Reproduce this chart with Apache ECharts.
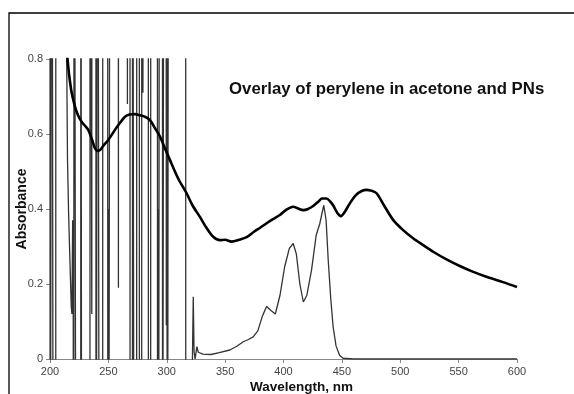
<!DOCTYPE html>
<html><head><meta charset="utf-8">
<script src="https://cdn.jsdelivr.net/npm/echarts@6/dist/echarts.min.js"></script>
<style>html,body{margin:0;padding:0;background:#fff}#c{width:574px;height:394px}</style>
</head><body><div id="c"></div>
<script>
var titleText = 'Overlay of perylene in acetone and PNs';
var xName = 'Wavelength, nm';
var yName = 'Absorbance';
var xTicks = [200, 250, 300, 350, 400, 450, 500, 550, 600];
var yTicks = [0, 0.2, 0.4, 0.6, 0.8];

// thick curve: perylene in acetone
var acetone = [[212,0.95],[215,0.8],[218,0.72],[221.4,0.673],[224,0.65],[227,0.633],[230,0.622],[232.8,0.611],[236,0.585],[238.5,0.562],[240.5,0.555],[242.8,0.557],[246,0.57],[249.9,0.584],[255.6,0.611],[260,0.63],[264.2,0.646],[268,0.652],[272.8,0.653],[277,0.65],[281.3,0.646],[285.6,0.637],[290,0.615],[294.2,0.593],[298,0.565],[302.7,0.531],[310,0.48],[317,0.442],[322,0.41],[328.4,0.379],[334,0.35],[339.8,0.326],[345.5,0.317],[350,0.318],[355.5,0.313],[362,0.318],[368.4,0.325],[375,0.34],[380,0.35],[385.5,0.362],[391,0.373],[396.9,0.384],[402,0.397],[408.3,0.406],[412,0.402],[416.9,0.397],[421,0.4],[425.4,0.408],[430,0.42],[433,0.428],[436.9,0.428],[440,0.42],[442.5,0.41],[446,0.39],[449.2,0.381],[452,0.39],[456.8,0.415],[462,0.437],[467,0.448],[471,0.451],[475,0.449],[479.7,0.442],[486,0.41],[493.9,0.371],[502,0.345],[511,0.322],[520,0.303],[528.2,0.286],[540,0.265],[551,0.248],[562,0.233],[575,0.218],[588,0.205],[600,0.192]];

// thin curve: perylene in PNs (noisy below ~320 nm)
var pns = [[200.0,2],[200.1,-1],[201.5,-1],[201.6,2],[202.8,2],[202.9,-1],[204.9,-1],[205.0,2],
[214.3,0.8],[215,0.53],[216,0.38],[217,0.27],[218.2,0.14],[218.8,0.12],[219.4,0.37],[219.9,0.12],[220.2,-1],
[220.6,-1],[220.7,2],[222.3,2],[222.4,-1],[226.3,-1],[226.4,2],[227.1,2],[227.2,-1],
[234.2,-1],[234.3,2],[235.7,2],[235.8,0.12],[235.9,2],[239.3,2],[239.4,-1],[240.8,-1],[240.9,2],
[242.2,2],[242.3,-1],[245.1,-1],[245.2,2],[249.4,2],[249.5,-1],[250.0,-1],[250.1,0.40],[250.2,-1],
[251.4,-1],[251.5,2],[258.5,2],[258.6,0.19],[258.7,2],[266.2,2],[266.3,0.68],[266.4,2],
[268.5,2],[268.6,-1],[270.6,-1],[270.7,2],[272.0,2],[272.1,-1],[274.2,-1],[274.3,2],
[276.5,2],[276.6,-1],[278.5,-1],[278.6,2],[279.5,2],[279.6,0.71],[279.7,2],
[284.2,2],[284.3,-1],[286.2,-1],[286.3,2],[292.0,2],[292.1,-1],[292.7,-1],[292.8,0.40],[292.9,-1],
[293.8,-1],[293.9,2],[296.3,2],[296.4,-1],[297.6,-1],[297.7,2],[299.5,2],[299.6,0.09],[299.7,2],
[300.5,2],[300.6,-1],[301.5,-1],[301.6,2],[316.2,2],[316.3,-1],
[321.5,-1],[322.0,0.0],[322.7,0.166],[323.4,0.02],[324.3,0.0],[325.8,0.033],[327,0.018],[331,0.013],[338,0.012],[345,0.017],[354,0.024],[360,0.034],[365.5,0.046],[370,0.052],[374,0.059],[378,0.075],[382,0.115],[385.5,0.14],[389,0.13],[393,0.12],[397,0.17],[401,0.246],[405,0.295],[408.3,0.308],[411,0.28],[414,0.2],[417,0.152],[420,0.17],[424,0.237],[428,0.33],[431,0.36],[434.5,0.41],[436.5,0.37],[438.3,0.264],[440.5,0.16],[442.5,0.086],[445,0.035],[448,0.01],[451,0.002],[460,0.0],[600,0.0]];

var chart = echarts.init(document.getElementById('c'), null, {renderer:'canvas'});
chart.setOption({
  animation:false,
  backgroundColor:'#fff',
  grid:{left:50, right:57, top:59, bottom:35},
  xAxis:{type:'value', min:200, max:600, interval:50,
    axisLine:{lineStyle:{color:'#888', width:1}},
    axisTick:{show:true, length:4, lineStyle:{color:'#888'}},
    axisLabel:{color:'#444', fontSize:11, fontFamily:'Liberation Sans, Arial', margin:7},
    splitLine:{show:false}},
  yAxis:{type:'value', min:0, max:0.8, interval:0.2,
    axisLine:{show:true, lineStyle:{color:'#888', width:1}},
    axisTick:{show:true, length:4, lineStyle:{color:'#888'}},
    axisLabel:{color:'#444', fontSize:11, fontFamily:'Liberation Sans, Arial', margin:7,
      formatter:function(v){return v===0?'0':v.toFixed(1);}},
    splitLine:{show:false}},
  series:[
    {type:'line', data:pns, showSymbol:false, symbol:'none', clip:true,
      lineStyle:{color:'#333', width:1.3}, z:2},
    {type:'line', data:acetone, showSymbol:false, symbol:'none', smooth:0.3, clip:true,
      lineStyle:{color:'#000', width:2.6}, z:3}
  ],
  graphic:[
    {type:'rect', shape:{x:9, y:13, width:700, height:500}, style:{fill:null, stroke:'#000', lineWidth:1.3}, silent:true},
    {type:'text', left:229, top:81, style:{text:titleText, font:'bold 16.8px "Liberation Sans", Arial', fill:'#111'}},
    {type:'text', left:250, top:380, style:{text:xName, font:'bold 13.5px "Liberation Sans", Arial', fill:'#111'}},
    {type:'text', x:22, y:209, rotation:Math.PI/2, style:{text:yName, font:'bold 14px "Liberation Sans", Arial', fill:'#111', textAlign:'center', textVerticalAlign:'middle'}}
  ]
});
</script></body></html>
